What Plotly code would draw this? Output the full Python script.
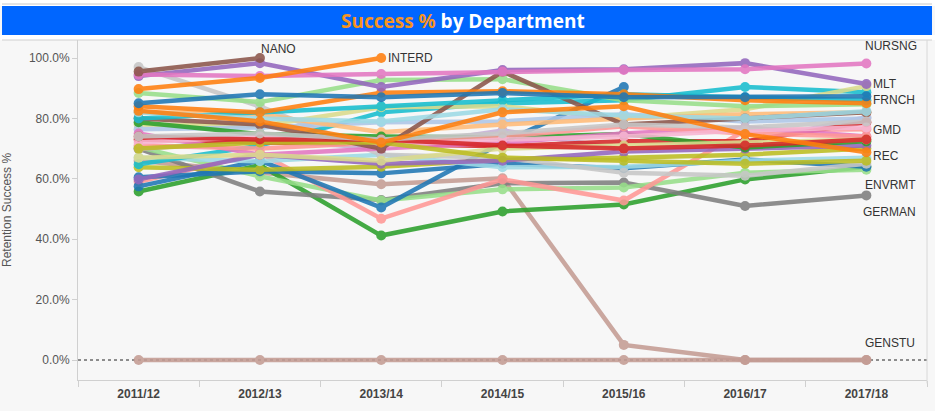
import plotly.graph_objects as go

years = ["2011/12", "2012/13", "2013/14", "2014/15", "2015/16", "2016/17", "2017/18"]

GENSTU = [0, 0, 0, 0, 0, 0, 0]
HIST = [66, 62, 58.2, 60.2, 5, 0, 0]
CHEM = [55.8, 64.5, 41.2, 49.2, 51.5, 59.8, 64.0]
GERMAN = [70, 55.8, 53, 58.5, 58.8, 51, 54.5]
ENVRMT = [70.5, 60.8, 52.8, 56.5, 57.1, 62.0, 63.0]
GMD = [59, 68.5, 46.8, 59.8, 52.8, 76.0, 76.4]
PHYS = [57.5, 66, 50.5, 72, 90.4, None, None]
MATH = [60.5, 62.5, 61.8, 65, 63.5, 66.4, 64]
ECON = [63.8, 63, 64, 66.4, 67, 68, 70]
GEOG = [67, 65.8, 68, 63.8, 64, 66, 67]
ART = [97, 84, 68, 67, 62, 61, 65]
PHIL = [59.8, 68, 65, 66, 69, 70, 71]
COMP = [64.8, 71.0, 82.0, 85.0, 86.0, 90.4, 88.7]
MUSIC = [69.8, 73, 70, 76, 69.8, 72, 80.4]
BIOL = [78, 77.5, 83.7, 84, 80, 83, 90.7]
ENGL = [76.4, 77, 78.7, 79, 81.4, 79, 80]
LAW = [82, 81.4, 75.4, 78, 80, 81.4, 82]
POLS = [73, 72, 71.5, 70.8, 72.4, 72.4, 78.7]
PSYCH = [78.7, 74.8, 74, 73.7, 74.8, 70.4, 72.4]
SPORT = [88.4, 85.4, 92.7, 93, 86, 84, 84.7]
SOCIO = [75, 68, 70, 72, 75, 77, 74]
DRAMA = [71, 70, 72, 74, 77.4, 75, 74]
MEDIA = [72, 74, 71, 73, 74, 76, 77]
ARCH = [80, 78, 70, 95.5, 78, 80, 82]
ENGIN = [80, 82, 84, 86, 88, 87, 86]
BUS = [82, 80, 79, 83, 81, 80, 82.4]
TOUR = [67, 68, 66, 70, 71, 72, 73]
ACCT = [70, 72, 72, 67, 66, 65, 66]
EDUC = [74, 73, 73, 71, 70, 71, 73]
PHARM = [84, 82, 88.5, 89, 88, 86, 85]
REC = [82.5, 79.0, 72.0, 82.0, 84.0, 74.8, 68.8]
FRNCH = [85.0, 88.0, 87.0, 88.4, 87.0, 87.0, 87.3]
MLT = [94.0, 98.3, 90.4, 96.0, 96.3, 98.3, 91.4]
NURSNG = [94.5, 94.0, 94.7, 95.5, 96.0, 96.3, 98.2]
INTERD = [89.7, 93.4, 100, None, None, None, None]
NANO = [95.5, 100, None, None, None, None, None]
SPAN = [74, 75, 73, 75, 78, 77, 79]

departments = [
    ("GENSTU", GENSTU), ("HIST", HIST), ("CHEM", CHEM), ("GERMAN", GERMAN),
    ("ENVRMT", ENVRMT), ("GMD", GMD), ("PHYS", PHYS), ("MATH", MATH),
    ("ECON", ECON), ("GEOG", GEOG), ("ART", ART), ("PHIL", PHIL),
    ("COMP", COMP), ("MUSIC", MUSIC), ("BIOL", BIOL), ("ENGL", ENGL),
    ("LAW", LAW), ("POLS", POLS), ("PSYCH", PSYCH), ("SPORT", SPORT),
    ("SOCIO", SOCIO), ("DRAMA", DRAMA), ("MEDIA", MEDIA), ("ARCH", ARCH),
    ("ENGIN", ENGIN), ("BUS", BUS), ("TOUR", TOUR), ("ACCT", ACCT),
    ("EDUC", EDUC), ("PHARM", PHARM), ("SPAN", SPAN), ("REC", REC),
    ("FRNCH", FRNCH), ("MLT", MLT), ("NURSNG", NURSNG), ("INTERD", INTERD),
    ("NANO", NANO),
]

colors = {
    "GENSTU": "#c49c94", "HIST": "#c49c94", "CHEM": "#2ca02c", "GERMAN": "#7f7f7f",
    "ENVRMT": "#98df8a", "GMD": "#ff9896", "PHYS": "#1f77b4", "MATH": "#1f77b4",
    "ECON": "#bcbd22", "GEOG": "#9edae5", "ART": "#c7c7c7", "PHIL": "#9467bd",
    "COMP": "#17becf", "MUSIC": "#c5b0d5", "BIOL": "#dbdb8d", "ENGL": "#aec7e8",
    "LAW": "#ffbb78", "POLS": "#d62728", "PSYCH": "#2ca02c", "SPORT": "#98df8a",
    "SOCIO": "#e377c2", "DRAMA": "#ff9896", "MEDIA": "#f7b6d2", "ARCH": "#8c564b",
    "ENGIN": "#17becf", "BUS": "#9edae5", "TOUR": "#dbdb8d", "ACCT": "#bcbd22",
    "EDUC": "#d62728", "PHARM": "#ff7f0e", "SPAN": "#c7c7c7", "REC": "#ff7f0e",
    "FRNCH": "#1f77b4", "MLT": "#9467bd", "NURSNG": "#e377c2", "INTERD": "#ff7f0e",
    "NANO": "#8c564b",
}

# label placement: (xanchor, yanchor, xshift, yshift)
labels = {
    "NANO": ("left", "bottom", -1, 0),
    "INTERD": ("left", "middle", 5, 0),
    "NURSNG": ("left", "bottom", -3, 8),
    "MLT": ("left", "middle", 5, 0),
    "FRNCH": ("left", "middle", 5, -4),
    "GMD": ("left", "middle", 5, -1),
    "REC": ("left", "middle", 5, -4),
    "ENVRMT": ("left", "top", -3, -6),
    "GERMAN": ("left", "top", -5, -8),
    "GENSTU": ("left", "bottom", -3, 8),
}

fig = go.Figure()

for name, vals in departments:
    fig.add_trace(go.Scatter(
        x=years, y=vals, name=name, mode="lines+markers",
        line=dict(color=colors[name], width=4.5),
        marker=dict(color=colors[name], size=10),
        opacity=0.88, connectgaps=False, showlegend=False,
        hovertemplate="%{x}<br>" + name + ": %{y:.1f}%<extra></extra>",
    ))

annotations = []
for name, vals in departments:
    if name in labels:
        idx = max(i for i, v in enumerate(vals) if v is not None)
        xa, ya, xs, ys = labels[name]
        annotations.append(dict(
            x=years[idx], y=vals[idx], xref="x", yref="y", text=name,
            showarrow=False, xanchor=xa, yanchor=ya, xshift=xs, yshift=ys,
            font=dict(family="Liberation Sans, Arial", size=12, color="#333333"),
        ))

# Title
annotations.append(dict(
    x=(463 - 78) / 849, y=(380 - 21) / 340, xref="paper", yref="paper", showarrow=False,
    xanchor="center", yanchor="middle",
    text="<span style='color:#f7941d'>Success %</span> by Department",
    font=dict(family="Open Sans", size=19, color="white", weight="bold"),
))
# Y axis title
annotations.append(dict(
    x=(7 - 78) / 849, y=0.5, xref="paper", yref="paper", showarrow=False,
    xanchor="center", yanchor="middle", textangle=-90,
    text="Retention Success %",
    font=dict(family="Liberation Sans, Arial", size=12, color="#555555"),
))

shapes = [
    # white band on top
    dict(type="rect", xref="paper", yref="paper", x0=-0.0916, x1=1.01,
         y0=(380 - 6) / 340, y1=1.2, fillcolor="white",
         line=dict(width=0), layer="below"),
    # title bar
    dict(type="rect", xref="paper", yref="paper", x0=-0.0895, x1=1.0059,
         y0=(380 - 35) / 340, y1=(380 - 6) / 340, fillcolor="#0066ff",
         line=dict(width=0), layer="below"),
    # white strip between title and chart
    dict(type="rect", xref="paper", yref="paper", x0=-0.0916, x1=1.01,
         y0=(380 - 40) / 340, y1=(380 - 35) / 340, fillcolor="white",
         line=dict(width=0), layer="below"),
    # top border of chart
    dict(type="line", xref="paper", yref="paper", x0=-0.0895, x1=1.0059,
         y0=(380 - 40) / 340, y1=(380 - 40) / 340,
         line=dict(color="#d0d0d0", width=1)),
    dict(type="line", xref="paper", yref="paper", x0=-0.0895, x1=1.0059,
         y0=(380 - 4) / 340, y1=(380 - 4) / 340,
         line=dict(color="#c8c8c8", width=1), layer="below"),
    # right border
    dict(type="line", xref="paper", yref="paper", x0=1.0, x1=1.0,
         y0=-0.01, y1=1.0, line=dict(color="#d8d8d8", width=1)),
    # zero reference line
    dict(type="line", xref="paper", yref="y", x0=0, x1=1, y0=0, y1=0,
         line=dict(color="#222222", width=1, dash="dot"), layer="below"),
]

fig.update_layout(
    width=935, height=411,
    margin=dict(l=78, r=8, t=40, b=31, autoexpand=False),
    paper_bgcolor="#f7f7f7", plot_bgcolor="#f7f7f7",
    showlegend=False,
    annotations=annotations, shapes=shapes,
    font=dict(family="Liberation Sans, Arial", size=12, color="#555555"),
    xaxis=dict(
        type="category", range=[-0.5, 6.5], showgrid=False, zeroline=False,
        showline=True, linecolor="#d0d0d0", linewidth=1,
        ticks="outside", tickson="boundaries", ticklen=6, tickcolor="#d0d0d0",
        ticklabelstandoff=3,
        tickfont=dict(family="Liberation Sans, Arial", size=12, color="#444444",
                      weight="bold"),
        automargin=False,
    ),
    yaxis=dict(
        range=[-6.62, 105.96], tickvals=[0, 20, 40, 60, 80, 100],
        ticktext=["0.0%", "20.0%", "40.0%", "60.0%", "80.0%", "100.0%"],
        showgrid=False, zeroline=False, showline=True, linecolor="#d0d0d0",
        ticks="outside", ticklen=5, tickcolor="#d0d0d0",
        tickfont=dict(family="Liberation Sans, Arial", size=12, color="#555555"),
        automargin=False,
    ),
)

fig.write_html(
    "out.html",
    config={"displayModeBar": False},
    post_script="document.body.style.margin='0';document.body.style.overflow='hidden';",
)
